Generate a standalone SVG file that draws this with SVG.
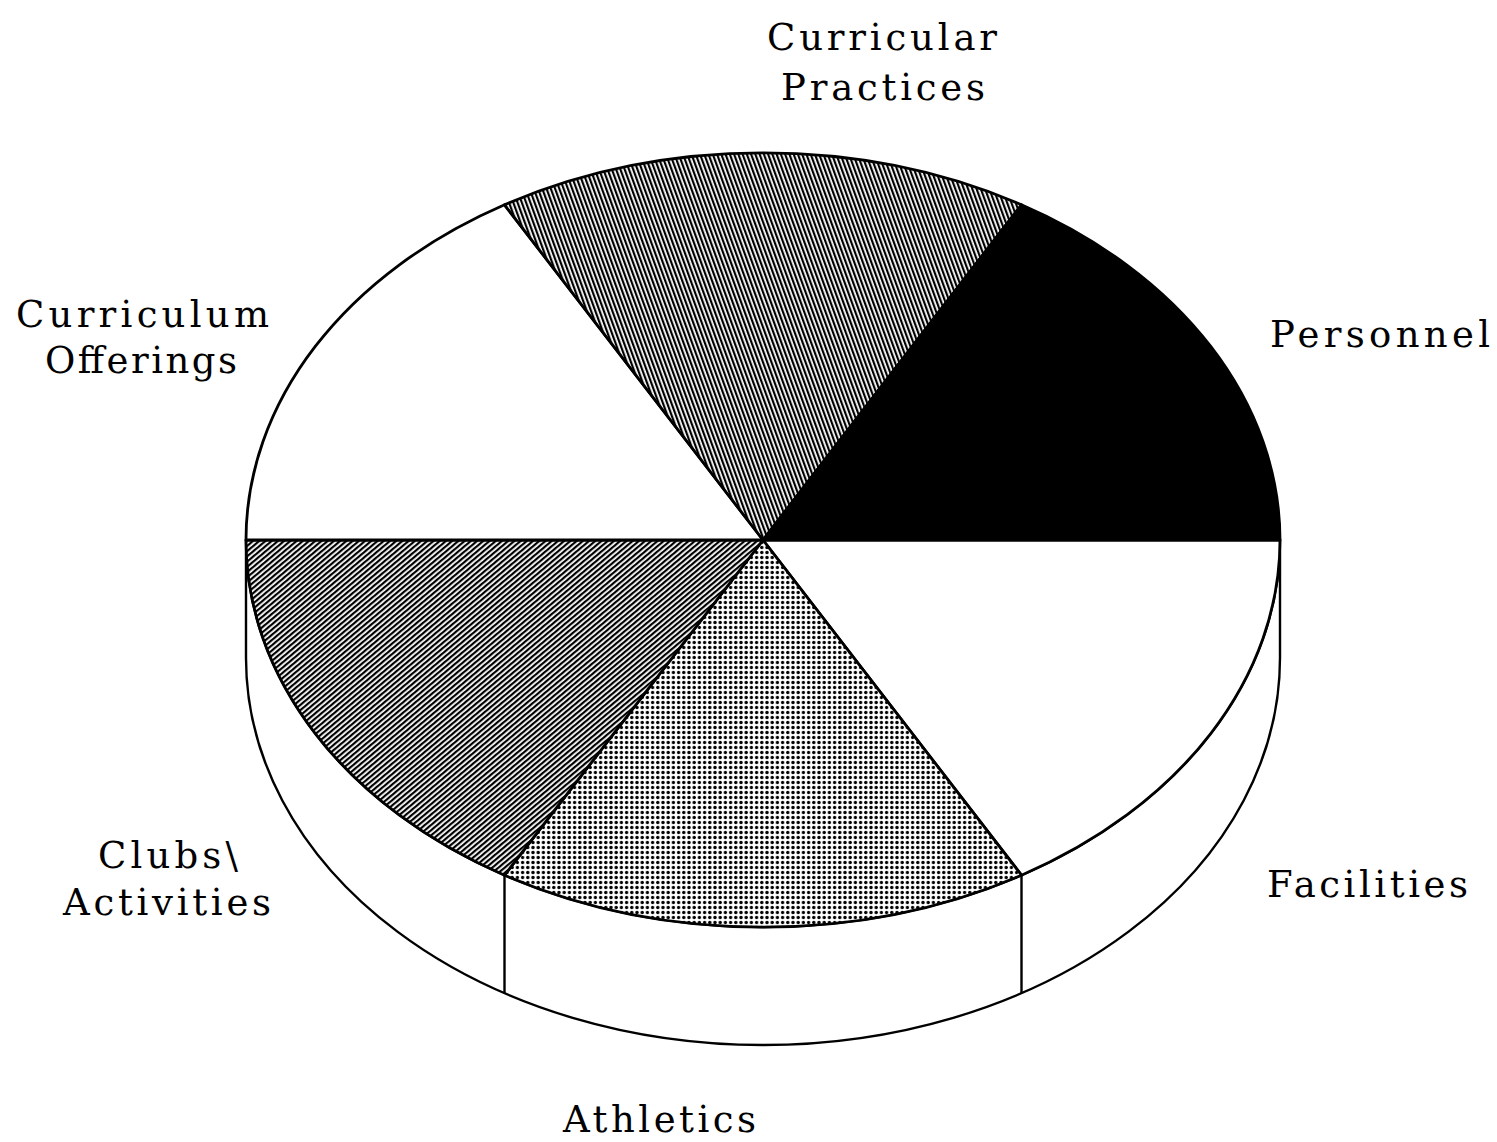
<svg xmlns="http://www.w3.org/2000/svg" width="1497" height="1142" viewBox="0 0 1497 1142">
<defs>
<pattern id="hatchSteep" width="4" height="4" patternUnits="userSpaceOnUse" patternTransform="rotate(-20)">
<rect x="0" y="0" width="4" height="4" fill="#fff"/>
<rect x="0" y="0" width="2.2" height="4" fill="#000"/>
</pattern>
<pattern id="hatchDiag" width="4" height="4" patternUnits="userSpaceOnUse" patternTransform="rotate(-40)">
<rect x="0" y="0" width="4" height="4" fill="#fff"/>
<rect x="0" y="0" width="4" height="2.2" fill="#000"/>
</pattern>
<pattern id="dots" width="5.2" height="5" patternUnits="userSpaceOnUse">
<rect x="0" y="0" width="5.2" height="5" fill="#fff"/>
<circle cx="2.6" cy="2.5" r="1.7" fill="#000"/>
</pattern>
</defs>
<style>
.slice{stroke:#000;stroke-width:2.8;stroke-linejoin:round}
.wall{fill:#fff;stroke:#000;stroke-width:2.4}
.edge{stroke:#000;stroke-width:2.4;fill:none}
.lbl{font-family:"DejaVu Serif","Liberation Serif",serif;font-size:37px;fill:#000}
</style>
<rect width="1497" height="1142" fill="#fff"/>
<g id="side-wall">
<path class="wall" d="M246,540 L246,658 A517,387 0 0,0 1280,658 L1280,540 A517,387 0 0,1 246,540 Z"/>
</g>
<g id="connectors">
<line class="edge" x1="504.5" y1="875.2" x2="504.5" y2="993.2"/>
<line class="edge" x1="1021.5" y1="875.2" x2="1021.5" y2="993.2"/>
</g>
<g id="facilities">
<path class="slice" fill="#fff" d="M763,540 L1280,540 A517,387 0 0,1 1021.5,875.2 Z"/>
<text class="lbl" x="1267" y="897" textLength="201" lengthAdjust="spacing">Facilities</text>
</g>
<g id="athletics">
<path class="slice" fill="url(#dots)" d="M763,540 L1021.5,875.2 A517,387 0 0,1 504.5,875.2 Z"/>
<text class="lbl" x="563" y="1132" textLength="193" lengthAdjust="spacing">Athletics</text>
</g>
<g id="clubs-activities">
<path class="slice" fill="url(#hatchDiag)" d="M763,540 L504.5,875.2 A517,387 0 0,1 246,540 Z"/>
<text class="lbl" x="98" y="868" textLength="140" lengthAdjust="spacing">Clubs\</text>
<text class="lbl" x="63" y="915" textLength="208" lengthAdjust="spacing">Activities</text>
</g>
<g id="curriculum-offerings">
<path class="slice" fill="#fff" d="M763,540 L246,540 A517,387 0 0,1 504.5,204.8 Z"/>
<text class="lbl" x="16" y="327" textLength="253" lengthAdjust="spacing">Curriculum</text>
<text class="lbl" x="45" y="373" textLength="192" lengthAdjust="spacing">Offerings</text>
</g>
<g id="curricular-practices">
<path class="slice" fill="url(#hatchSteep)" d="M763,540 L504.5,204.8 A517,387 0 0,1 1021.5,204.8 Z"/>
<text class="lbl" x="767" y="50" textLength="230" lengthAdjust="spacing">Curricular</text>
<text class="lbl" x="781" y="100" textLength="204" lengthAdjust="spacing">Practices</text>
</g>
<g id="personnel">
<path class="slice" fill="#000" d="M763,540 L1021.5,204.8 A517,387 0 0,1 1280,540 Z"/>
<text class="lbl" x="1270" y="347" textLength="220" lengthAdjust="spacing">Personnel</text>
</g>
</svg>
